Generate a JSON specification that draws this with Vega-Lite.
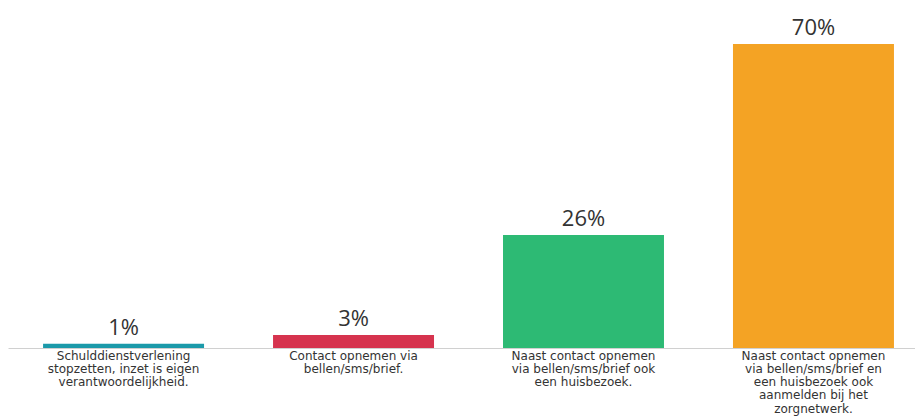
{
  "$schema": "https://vega.github.io/schema/vega-lite/v6.json",
  "width": 907,
  "height": 304,
  "autosize": {"type": "none"},
  "padding": {"left": 8, "top": 44, "right": 0, "bottom": 69},
  "background": "white",
  "config": {"view": {"stroke": null}, "font": "DejaVu Sans"},
  "data": {
    "values": [
      {"cat": "A", "label": "Schulddienstverlening|stopzetten, inzet is eigen|verantwoordelijkheid.", "value": 0.01, "color": "#1b9aaa"},
      {"cat": "B", "label": "Contact opnemen via|bellen/sms/brief.", "value": 0.03, "color": "#d6334e"},
      {"cat": "C", "label": "Naast contact opnemen|via bellen/sms/brief ook|een huisbezoek.", "value": 0.26, "color": "#2dba74"},
      {"cat": "D", "label": "Naast contact opnemen|via bellen/sms/brief en|een huisbezoek ook|aanmelden bij het|zorgnetwerk.", "value": 0.70, "color": "#f4a324"}
    ]
  },
  "encoding": {
    "x": {
      "field": "label",
      "type": "nominal",
      "sort": null,
      "scale": {"paddingInner": 0.3, "paddingOuter": 0.122, "align": 0.625},
      "axis": {
        "title": null,
        "labelAngle": 0,
        "labelExpr": "split(datum.label, '|')",
        "labelFont": "DejaVu Sans",
        "labelFontSize": 12,
        "labelLineHeight": 13.3,
        "labelColor": "#333333",
        "labelPadding": 2,
        "ticks": false,
        "domainColor": "#d0d0d0",
        "domainWidth": 1,
        "labelLimit": 300,
        "labelOverlap": false
      }
    },
    "y": {
      "field": "value",
      "type": "quantitative",
      "scale": {"domain": [0, 0.7], "nice": false},
      "axis": null
    }
  },
  "layer": [
    {"mark": {"type": "bar"}, "encoding": {"color": {"field": "color", "type": "nominal", "scale": null}}},
    {
      "mark": {"type": "text", "baseline": "alphabetic", "dy": -9, "fontSize": 22, "color": "#333333", "font": "Open Sans"},
      "encoding": {"text": {"field": "value", "type": "quantitative", "format": ".0%"}}
    }
  ]
}
